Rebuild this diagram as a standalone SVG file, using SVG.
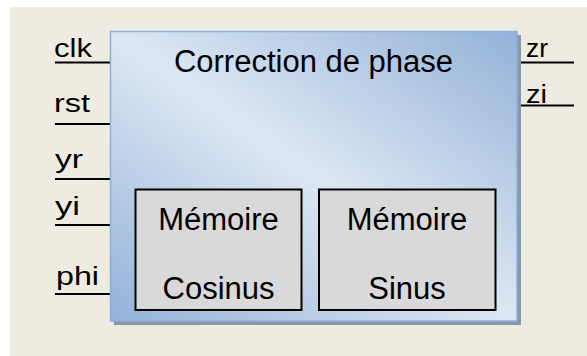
<svg xmlns="http://www.w3.org/2000/svg" width="587" height="356" viewBox="0 0 587 356">
<defs>
<linearGradient id="g" x1="1" y1="0" x2="0" y2="1">
<stop offset="0" stop-color="#93B2D8"/>
<stop offset="0.5" stop-color="#DDE7F3"/>
<stop offset="1" stop-color="#93B2D8"/>
</linearGradient>
</defs>
<style>
text{font-family:"Liberation Sans",Arial,sans-serif;fill:#000}
.lbl{font-size:26px}
.big{font-size:31px;text-anchor:middle}
.wire{stroke:#000;stroke-width:2}
.mem{fill:#D9D9D9;stroke:#000;stroke-width:2}
</style>
<rect x="10" y="7" width="577" height="349" fill="#EEECE1"/>
<g id="connectors">
<line class="wire" x1="55" y1="62.5" x2="112" y2="62.5"/>
<line class="wire" x1="55" y1="124" x2="112" y2="124"/>
<line class="wire" x1="55" y1="179" x2="112" y2="179"/>
<line class="wire" x1="55" y1="225" x2="112" y2="225"/>
<line class="wire" x1="55" y1="294" x2="112" y2="294"/>
<line class="wire" x1="516" y1="62.5" x2="574" y2="62.5"/>
<line class="wire" x1="516" y1="105.5" x2="574" y2="105.5"/>
</g>
<g id="labels">
<text class="lbl" x="54" y="56.5" textLength="38" lengthAdjust="spacingAndGlyphs">clk</text>
<text class="lbl" x="54" y="111.5" textLength="36" lengthAdjust="spacingAndGlyphs">rst</text>
<text class="lbl" x="55" y="168" textLength="28" lengthAdjust="spacingAndGlyphs">yr</text>
<text class="lbl" x="55" y="215" textLength="25" lengthAdjust="spacingAndGlyphs">yi</text>
<text class="lbl" x="56" y="285" textLength="43" lengthAdjust="spacingAndGlyphs">phi</text>
<text class="lbl" x="526" y="56.5" textLength="22" lengthAdjust="spacingAndGlyphs">zr</text>
<text class="lbl" x="526" y="103" textLength="21" lengthAdjust="spacingAndGlyphs">zi</text>
</g>
<g id="main">
<rect x="114" y="35" width="407" height="290" fill="#8A97A6"/>
<rect x="110.5" y="31.5" width="406.5" height="289.5" fill="url(#g)" stroke="#8DB1DC" stroke-width="1.5"/>
<text class="big" x="313.5" y="71.5">Correction de phase</text>
</g>
<g id="mem-cos">
<rect class="mem" x="135.5" y="189.5" width="166" height="120.5"/>
<text class="big" x="218.5" y="230">Mémoire</text>
<text class="big" x="218.5" y="298.5">Cosinus</text>
</g>
<g id="mem-sin">
<rect class="mem" x="319" y="189.5" width="176.5" height="120.5"/>
<text class="big" x="407" y="230">Mémoire</text>
<text class="big" x="407" y="298.5">Sinus</text>
</g>
</svg>
